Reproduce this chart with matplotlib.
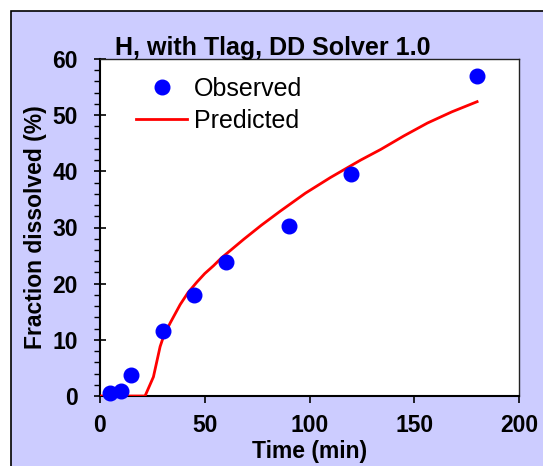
import matplotlib
matplotlib.use("Agg")
import matplotlib.pyplot as plt
from matplotlib.patches import Rectangle

plt.rcParams['font.family'] = ['Liberation Sans', 'DejaVu Sans']

# observed dissolution data
obs_time = [5, 10, 15, 30, 45, 60, 90, 120, 180]
obs_frac = [0.5, 0.9, 3.8, 11.6, 17.9, 23.9, 30.3, 39.5, 56.9]

# predicted curve
pred_time = [0, 21.5, 25.5, 28.7, 30.5, 33.5, 38.3, 42, 46.3, 50, 54.2, 58, 62.2, 68.6,
             77, 86, 98, 110, 124.4, 134, 145, 156.3, 168, 180]
pred_frac = [0, 0, 3.4, 8.8, 10.8, 13.0, 16.3, 18.4, 20.3, 21.8, 23.2, 24.6, 25.9, 27.9,
             30.4, 32.9, 36.1, 38.9, 42.0, 43.9, 46.3, 48.6, 50.6, 52.4]

x_ticks = [0, 50, 100, 150, 200]
y_ticks = [0, 10, 20, 30, 40, 50, 60]

W, H = 543, 466
fig = plt.figure(figsize=(W / 100, H / 100), dpi=100, facecolor='white')

# lavender chart area with border
bg = Rectangle((11 / W, -0.1), 1.2, (H - 11) / H + 0.1, transform=fig.transFigure,
               facecolor='#CCCCFF', edgecolor='black', linewidth=1.2, zorder=-10)
fig.patches.append(bg)

ax = fig.add_axes([100 / W, (H - 396) / H, 419 / W, 337 / H])
ax.set_facecolor('white')

ax.plot(pred_time, pred_frac, color='#FF0000', lw=2.0, label='Predicted', zorder=3)
ax.plot(obs_time, obs_frac, 'o', color='#0000FF', ms=10.5, mec='#0000FF',
        label='Observed', clip_on=False, zorder=4)

ax.set_xlim(0, 200)
ax.set_ylim(0, 60)
ax.set_xticks(x_ticks)
ax.set_yticks(y_ticks)
ax.set_yticks(range(0, 61, 2), minor=True)

for s in ['left', 'bottom']:
    ax.spines[s].set_linewidth(1.5)
    ax.spines[s].set_color('black')
for s in ['top', 'right']:
    ax.spines[s].set_linewidth(1.0)
    ax.spines[s].set_color('#222222')

ax.tick_params(axis='y', which='major', direction='inout', length=8, width=1.2,
               pad=12, labelsize=16.5)
ax.tick_params(axis='y', which='minor', direction='out', length=4, width=1.0)
ax.tick_params(axis='x', which='major', direction='out', length=5, width=1.2,
               pad=8, labelsize=16.5)
for lab in ax.get_xticklabels() + ax.get_yticklabels():
    lab.set_fontweight('bold')

ax.set_xlabel('Time (min)', fontsize=16.5, fontweight='bold', labelpad=2)
ax.set_ylabel('Fraction dissolved (%)', fontsize=16.5, fontweight='bold', labelpad=4)

fig.text(272.5 / W, (H - 55) / H, 'H, with Tlag, DD Solver 1.0', ha='center',
         va='baseline', fontsize=18, fontweight='bold')

handles, labels = ax.get_legend_handles_labels()
ax.legend(handles[::-1], labels[::-1], loc='upper left', bbox_to_anchor=(36 / 419, 1 - 18 / 337),
          frameon=False, fontsize=18, numpoints=1, handlelength=2.05,
          handletextpad=0.25, labelspacing=0.3, borderaxespad=0, borderpad=0)

fig.savefig('out.png', dpi=100, facecolor='white')
